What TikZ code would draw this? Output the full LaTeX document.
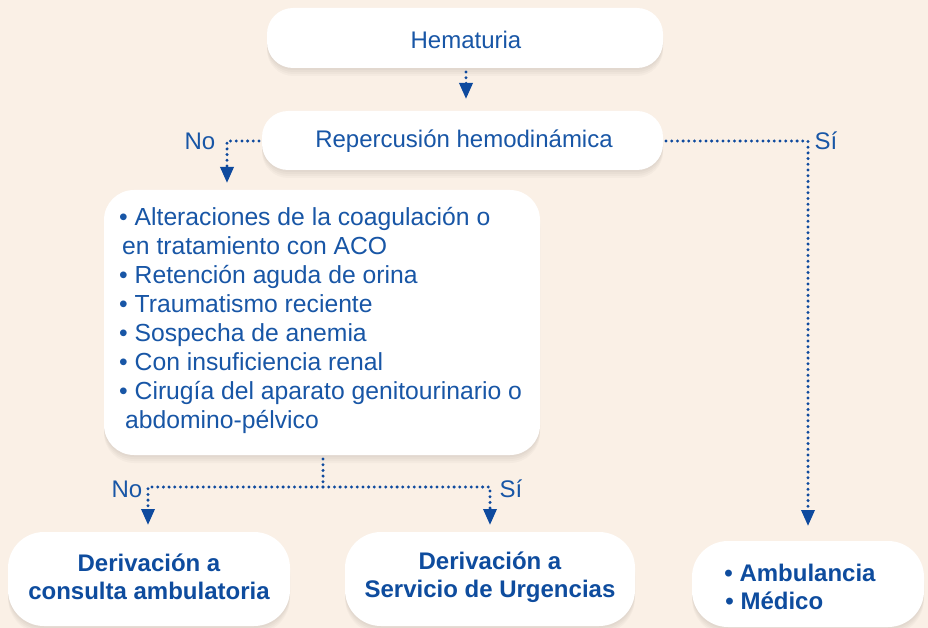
\documentclass[tikz,border=0pt]{standalone}
\usepackage{fontspec}
\setmainfont{Liberation Sans}
\usetikzlibrary{arrows.meta}
\definecolor{bgpeach}{RGB}{250,240,230}
\definecolor{txtblue}{RGB}{24,86,166}
\definecolor{boldblue}{RGB}{14,76,158}
\definecolor{dotblue}{RGB}{14,74,158}
\newcommand{\shbox}[3]{%
  \foreach \dy in {2,4,6,8} {\fill[black, opacity=0.025, rounded corners=#1, yshift=-\dy pt] (#2) rectangle (#3);}
  \fill[white, rounded corners=#1] (#2) rectangle (#3);}
\begin{document}
\begin{tikzpicture}[x=1pt,y=-1pt,
  txt/.style={text=txtblue, font=\fontsize{24}{29}\selectfont, inner sep=0pt},
  btxt/.style={text=boldblue, font=\fontsize{24}{27.5}\selectfont\bfseries, inner sep=0pt, align=center},
  dotline/.style={draw=dotblue, line width=3.3pt, line cap=round, dash pattern=on 0pt off 5.7pt},
  tip/.style={-{Triangle[width=13pt,length=16pt]}}
]
\useasboundingbox (0,0) rectangle (928,628);
\fill[bgpeach] (0,0) rectangle (928,628);

% boxes
\shbox{26pt}{267,8}{663,68}
\shbox{26pt}{262,111}{663,170}
\shbox{30pt}{104,190}{540,455}
\shbox{36pt}{8,532}{290,626}
\shbox{36pt}{345,532}{635,626}
\shbox{36pt}{692,541}{924,627}

% named anchors for boxes
\coordinate (hemS) at (466,68);
\coordinate (repN) at (466,111);
\coordinate (repW) at (262,141);
\coordinate (repE) at (663,141);
\coordinate (bigN) at (227,190);
\coordinate (bigS) at (323,455);
\coordinate (d1N) at (148,532);
\coordinate (d2N) at (490,532);
\coordinate (ambN) at (808,541);
\coordinate (noTurn) at (227,141);
\coordinate (siTurn) at (808,141);
\coordinate (split) at (323,487);
\coordinate (splitL) at (148,487);
\coordinate (splitR) at (490,487);

% texts
\node[txt] (hem) at (466,40) {Hematuria};
\node[txt] (rep) at (464,141) {Repercusión hemodinámica};
\node[txt, anchor=west, align=left, font=\fontsize{24.7}{29}\selectfont] (big) at (119,320) {%
• Alteraciones de la coagulación o\\
\hspace*{3pt}en tratamiento con ACO\\
• Retención aguda de orina\\
• Traumatismo reciente\\
• Sospecha de anemia\\
• Con insuficiencia renal\\
• Cirugía del aparato genitourinario o\\
\hspace*{6pt}abdomino-pélvico};
\node[btxt] (d1) at (149,577) {Derivación a\\consulta ambulatoria};
\node[btxt] (d2) at (490,577) {Derivación a\\Servicio de Urgencias};
\node[btxt, align=left, font=\fontsize{24}{28.5}\selectfont\bfseries] (amb) at (800,587) {• Ambulancia\\\hspace*{1pt}• Médico};

% labels
\node[txt] (no1) at (200,141) {No};
\node[txt] (si1) at (826,141) {Sí};
\node[txt] (no2) at (127,489) {No};
\node[txt] (si2) at (511,489) {Sí};

% connectors
\draw[dotline, tip, shorten <=4pt, shorten >=12pt] (hemS) -- (repN);
\draw[dotline, tip, shorten <=3pt, shorten >=7pt] (repW) -- (noTurn) -- (bigN);
\draw[dotline, tip, shorten <=3pt, shorten >=15pt] (repE) -- (siTurn) -- (ambN);
\draw[dotline, shorten <=4pt] (bigS) -- (split);
\draw[dotline, tip, shorten >=7pt] (split) -- (splitL) -- (d1N);
\draw[dotline, tip, shorten >=7pt] (split) -- (splitR) -- (d2N);
\end{tikzpicture}
\end{document}
